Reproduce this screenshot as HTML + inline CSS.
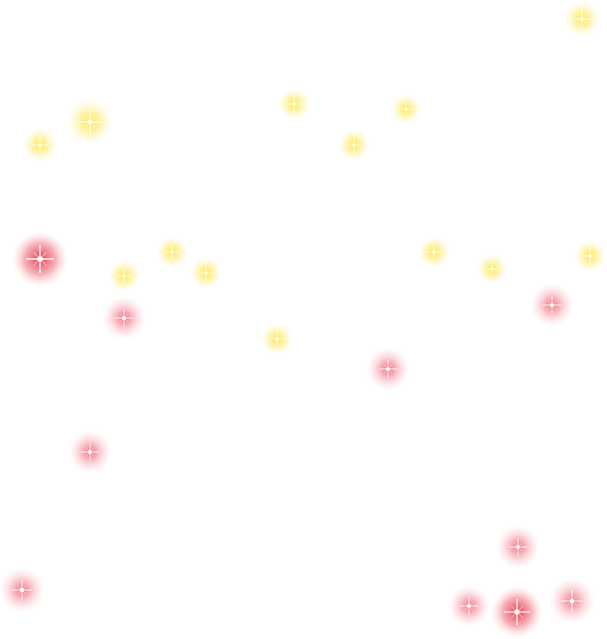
<!DOCTYPE html>
<html><head><style>html,body{margin:0;padding:0;background:#fff}svg{display:block}</style></head>
<body>
<svg width="607" height="639" viewBox="0 0 607 639" xmlns="http://www.w3.org/2000/svg">
<defs>
<radialGradient id="y"><stop offset="0" stop-color="#fff"/><stop offset="0.12" stop-color="#ffea50" stop-opacity="0.9"/><stop offset="0.45" stop-color="#ffe448" stop-opacity="0.45"/><stop offset="1" stop-color="#fff3a0" stop-opacity="0"/></radialGradient>
<radialGradient id="r"><stop offset="0" stop-color="#fff"/><stop offset="0.12" stop-color="#f06878" stop-opacity="0.8"/><stop offset="0.5" stop-color="#f27888" stop-opacity="0.35"/><stop offset="1" stop-color="#ffc0c8" stop-opacity="0"/></radialGradient>
<radialGradient id="rs"><stop offset="0" stop-color="#fff"/><stop offset="0.12" stop-color="#ea4858" stop-opacity="0.9"/><stop offset="0.55" stop-color="#ee6070" stop-opacity="0.5"/><stop offset="1" stop-color="#ffc0c8" stop-opacity="0"/></radialGradient>
<g id="st"><path d="M-1 0H1M0-1V1" stroke="#fff" stroke-width="0.1" opacity="0.9"/><path d="M-.45-.45L.45 .45M-.45 .45L.45-.45" stroke="#fff" stroke-width="0.06" opacity="0.6"/><circle r="0.2" fill="#fff"/></g>
</defs>
<g fill="url(#y)">
<circle cx="582" cy="19" r="18"/><circle cx="90" cy="122" r="23"/><circle cx="40" cy="145" r="17"/>
<circle cx="294" cy="104" r="16"/><circle cx="406" cy="109" r="15"/><circle cx="354" cy="145" r="16"/>
<circle cx="172" cy="252" r="16"/><circle cx="124" cy="276" r="16"/><circle cx="206" cy="273" r="16"/>
<circle cx="434" cy="252" r="16"/><circle cx="492" cy="269" r="15"/><circle cx="590" cy="256" r="16"/>
<circle cx="277" cy="339" r="16"/>
</g>
<g fill="url(#r)">
<circle cx="124" cy="318" r="22"/><circle cx="552" cy="305" r="22"/><circle cx="388" cy="369" r="22"/>
<circle cx="90" cy="452" r="22"/><circle cx="518" cy="547" r="22"/><circle cx="22" cy="590" r="23"/>
<circle cx="469" cy="606" r="21"/><circle cx="572" cy="601" r="23"/>
</g>
<g fill="url(#rs)"><circle cx="40" cy="259" r="28"/><circle cx="517" cy="612" r="26"/></g>
<g>
<use href="#st" transform="translate(582 19) scale(9)"/><use href="#st" transform="translate(90 122) scale(12)"/>
<use href="#st" transform="translate(40 145) scale(8)"/><use href="#st" transform="translate(294 104) scale(8)"/>
<use href="#st" transform="translate(406 109) scale(7)"/><use href="#st" transform="translate(354 145) scale(8)"/>
<use href="#st" transform="translate(172 252) scale(8)"/><use href="#st" transform="translate(124 276) scale(8)"/>
<use href="#st" transform="translate(206 273) scale(8)"/><use href="#st" transform="translate(434 252) scale(8)"/>
<use href="#st" transform="translate(492 269) scale(7)"/><use href="#st" transform="translate(590 256) scale(8)"/>
<use href="#st" transform="translate(277 339) scale(8)"/>
<use href="#st" transform="translate(40 259) scale(14)"/><use href="#st" transform="translate(124 318) scale(9)"/>
<use href="#st" transform="translate(552 305) scale(9)"/><use href="#st" transform="translate(388 369) scale(9)"/>
<use href="#st" transform="translate(90 452) scale(9)"/><use href="#st" transform="translate(518 547) scale(9)"/>
<use href="#st" transform="translate(22 590) scale(10)"/><use href="#st" transform="translate(469 606) scale(9)"/>
<use href="#st" transform="translate(517 612) scale(13)"/><use href="#st" transform="translate(572 601) scale(11)"/>
</g>
</svg>
</body></html>
